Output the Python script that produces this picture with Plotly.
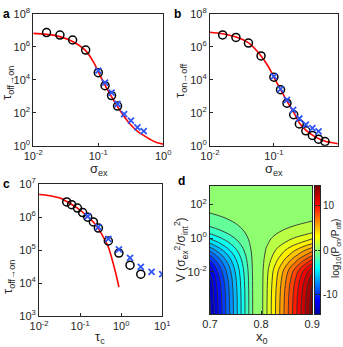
import plotly.graph_objects as go

# ---- panel a: tau off->on vs sigma_ex ----
sig_a_circ = [0.016, 0.0257, 0.0403, 0.064, 0.100, 0.127, 0.160, 0.198]
tau_a_circ = [7.3e6, 5.2e6, 2.6e6, 6.4e5, 2.7e4, 4.4e3, 1.1e3, 257]
sig_a_cross = [0.100, 0.127, 0.160, 0.198, 0.250, 0.318, 0.400, 0.500]
tau_a_cross = [3.6e4, 6.7e3, 1.66e3, 340, 84, 33, 13, 7.8]
sig_a_fit = [0.01, 0.016, 0.0257, 0.0403, 0.0638, 0.0838, 0.1, 0.127, 0.160,
             0.198, 0.251, 0.318, 0.398, 0.505, 0.631, 0.789, 1.0]
tau_a_fit = [6.6e6, 5.75e6, 4.17e6, 2.09e6, 5.9e5, 1.26e5, 3.1e4, 4.8e3, 955,
             234, 57.5, 18.2, 7.8, 4.07, 2.4, 1.58, 1.26]

# ---- panel b: tau on->off vs sigma_ex ----
sig_b_circ = [0.0158, 0.0255, 0.040, 0.063, 0.100, 0.127, 0.160, 0.204,
              0.250, 0.316, 0.400, 0.500, 0.630]
tau_b_circ = [5.3e6, 3.7e6, 1.7e6, 2.8e5, 1.45e4, 2.5e3, 385, 76,
              21, 8.1, 4.2, 2.5, 1.8]
sig_b_cross = [0.100, 0.127, 0.160, 0.200, 0.250, 0.316, 0.400, 0.500]
tau_b_cross = [1.6e4, 2.7e3, 610, 152, 45, 19, 11.8, 7.4]
sig_b_fit = [0.01, 0.0158, 0.0257, 0.0407, 0.063, 0.080, 0.1, 0.128, 0.161,
             0.204, 0.254, 0.319, 0.406, 0.510, 0.631, 0.794, 1.0]
tau_b_fit = [7.76e6, 6.17e6, 3.89e6, 1.66e6, 2.82e5, 7.4e4, 1.45e4, 2.45e3, 490,
             105, 22.4, 8.5, 4.3, 2.6, 1.9, 1.58, 1.32]

# ---- panel c: tau off->on vs tau_c ----
tc_circ = [0.047, 0.062, 0.086, 0.115, 0.153, 0.21, 0.278, 0.486, 0.88, 1.64, 3.0]
tau_c_circ = [2.9e6, 2.4e6, 1.9e6, 1.38e6, 1.0e6, 7.2e5, 4.7e5, 1.9e5, 8.2e4, 3.5e4, 1.87e4]
tc_cross = [0.153, 0.278, 0.486, 0.88, 1.64, 3.0, 5.5, 10.0]
tau_c_cross = [1.07e6, 5.0e5, 2.2e5, 1.06e5, 5.8e4, 3.1e4, 2.2e4, 1.87e4]
tc_fit = [0.01, 0.0185, 0.0324, 0.047, 0.086, 0.153, 0.21, 0.278, 0.367,
          0.486, 0.565, 0.64, 0.76, 0.88]
tau_c_fit = [4.9e6, 4.5e6, 3.8e6, 3.0e6, 1.9e6, 1.05e6, 7.2e5, 4.5e5, 2.5e5,
             1.25e5, 6.9e4, 3.9e4, 1.7e4, 7.6e3]

# tick positions / labels
sig_ticks = [0.01, 0.1, 1]
sig_ticktext = ['10<sup>-2</sup>', '10<sup>-1</sup>', '10<sup>0</sup>']
tau_ticks_ab = [1, 1e2, 1e4, 1e6, 1e8]
tau_ticktext_ab = ['10<sup>0</sup>', '10<sup>2</sup>', '10<sup>4</sup>', '10<sup>6</sup>', '10<sup>8</sup>']
tc_ticks = [0.01, 0.1, 1, 10]
tc_ticktext = ['10<sup>-2</sup>', '10<sup>-1</sup>', '10<sup>0</sup>', '10<sup>1</sup>']
tau_ticks_c = [1e3, 1e4, 1e5, 1e6, 1e7]
tau_ticktext_c = ['10<sup>3</sup>', '10<sup>4</sup>', '10<sup>5</sup>', '10<sup>6</sup>', '10<sup>7</sup>']

# ---- panel d: log10(P_on/P_off) over x0 and log10 V ----
x0_cols = [0.70, 0.7837, 0.7935, 0.8033, 0.90]
z_low_v = [-14.0, -0.6, 0.0, 0.6, 14.6]          # values at the bottom of the map
logv_rows = [-4.5, -4.0, -3.5, -3.0, -2.5, -2.0, -1.75, -1.5, -1.25, -1.0, -0.75,
             -0.5, -0.25, 0.0, 0.25, 0.5, 0.75, 1.0, 1.25, 1.5, 1.75, 2.0, 2.5, 3.1]
# fraction of the low-V value that remains, read where lines meet the side edges
keep_left = [0.997, 0.993, 0.986, 0.971, 0.942, 0.886, 0.843, 0.788, 0.720, 0.641,
             0.552, 0.460, 0.371, 0.290, 0.220, 0.163, 0.119, 0.0855, 0.0608,
             0.0428, 0.0301, 0.021, 0.0102, 0.0042]
keep_right = [0.995, 0.99, 0.98, 0.96, 0.92, 0.855, 0.79, 0.70, 0.615, 0.52,
              0.44, 0.35, 0.26, 0.195, 0.135, 0.092, 0.062, 0.042, 0.028,
              0.019, 0.013, 0.009, 0.0045, 0.0018]
v_ticks = [-2, 0, 2]
v_ticktext = ['10<sup>-2</sup>', '10<sup>0</sup>', '10<sup>2</sup>']
cbar_ends = [-14.4, 14.4]
cbar_ticks = [-10, 0, 10]

z_map = [[zv * (kl if zv < 0 else kr) for zv in z_low_v]
         for kl, kr in zip(keep_left, keep_right)]

jet = [[0.0, 'rgb(0,0,160)'], [0.11, 'rgb(0,0,255)'], [0.36, 'rgb(0,255,255)'],
       [0.61, 'rgb(255,255,0)'], [0.86, 'rgb(255,0,0)'], [1.0, 'rgb(128,0,0)']]

FONT = 'Liberation Sans, Arial, sans-serif'
INK = '#262626'
RED = '#ff0000'
BLUE = '#2f55f5'
W, H = 343, 347


def curve_traces(xs, ys, xc, yc, xf, yf, ax):
    return [
        go.Scatter(x=xf, y=yf, mode='lines', line=dict(color=RED, width=1.6, shape='spline'),
                   xaxis='x' + ax, yaxis='y' + ax, showlegend=False),
        go.Scatter(x=xs, y=ys, mode='markers', xaxis='x' + ax, yaxis='y' + ax, showlegend=False,
                   marker=dict(symbol='circle-open', size=8, color='black', line=dict(width=1.5))),
        go.Scatter(x=xc, y=yc, mode='markers', xaxis='x' + ax, yaxis='y' + ax, showlegend=False,
                   marker=dict(symbol='x-thin-open', size=6, color=BLUE, line=dict(width=1.8, color=BLUE))),
    ]


fig = go.Figure()
for t in curve_traces(sig_a_circ, tau_a_circ, sig_a_cross, tau_a_cross, sig_a_fit, tau_a_fit, ''):
    fig.add_trace(t)
for t in curve_traces(sig_b_circ, tau_b_circ, sig_b_cross, tau_b_cross, sig_b_fit, tau_b_fit, '2'):
    fig.add_trace(t)
for t in curve_traces(tc_circ, tau_c_circ, tc_cross, tau_c_cross, tc_fit, tau_c_fit, '3'):
    fig.add_trace(t)

fig.add_trace(go.Contour(
    x=x0_cols, y=logv_rows, z=z_map, xaxis='x4', yaxis='y4',
    colorscale=jet, showscale=False, autocontour=False,
    contours=dict(start=-13.8, end=13.8, size=1.2, coloring='fill'),
    line=dict(color='#333333', width=0.9), hoverinfo='skip',
))
# colour bar drawn as a thin heatmap on its own axes
fig.add_trace(go.Heatmap(
    x=[0], y=cbar_ends, z=[[cbar_ends[0]], [cbar_ends[1]]], zsmooth='best',
    colorscale=jet, zmin=cbar_ends[0], zmax=cbar_ends[1], showscale=False,
    xaxis='x5', yaxis='y5', hoverinfo='skip',
))

axis_style = dict(showline=True, mirror=True, linecolor=INK, linewidth=1, ticks='inside',
                  ticklen=3, tickcolor=INK, showgrid=False, zeroline=False, automargin=False,
                  tickfont=dict(size=11, color=INK, family=FONT))
log_style = dict(axis_style, type='log')

fig.update_layout(
    width=W, height=H, margin=dict(l=0, r=0, t=0, b=0, autoexpand=False),
    paper_bgcolor='white', plot_bgcolor='white', font=dict(family=FONT, color=INK),
    xaxis=dict(log_style, domain=[0.097, 0.476], range=[-2, 0], anchor='y',
               tickvals=sig_ticks, ticktext=sig_ticktext),
    yaxis=dict(log_style, domain=[0.580, 0.960], range=[0, 8], anchor='x',
               tickvals=tau_ticks_ab, ticktext=tau_ticktext_ab),
    xaxis2=dict(log_style, domain=[0.612, 0.985], range=[-2, 0], anchor='y2',
                tickvals=sig_ticks, ticktext=sig_ticktext),
    yaxis2=dict(log_style, domain=[0.580, 0.960], range=[0, 8], anchor='x2',
                tickvals=tau_ticks_ab, ticktext=tau_ticktext_ab),
    xaxis3=dict(log_style, domain=[0.114, 0.473], range=[-2, 1], anchor='y3',
                tickvals=tc_ticks, ticktext=tc_ticktext),
    yaxis3=dict(log_style, domain=[0.089, 0.469], range=[3, 7], anchor='x3',
                tickvals=tau_ticks_c, ticktext=tau_ticktext_c),
    xaxis4=dict(axis_style, domain=[0.612, 0.910], range=[0.7, 0.9], anchor='y4',
                tickvals=[0.7, 0.8, 0.9], ticktext=['0.7', '0.8', '0.9']),
    yaxis4=dict(axis_style, domain=[0.095, 0.464], range=[-4.5, 3.1], anchor='x4',
                tickvals=v_ticks, ticktext=v_ticktext),
    xaxis5=dict(axis_style, domain=[315 / W, 320 / W], range=[-0.5, 0.5], anchor='y5',
                ticks='', showticklabels=False),
    yaxis5=dict(axis_style, domain=[0.095, 0.464], range=cbar_ends, anchor='x5',
                side='right', mirror='allticks', ticklen=2,
                tickfont=dict(size=10, color=INK, family=FONT),
                tickvals=cbar_ticks, ticktext=[str(v) for v in cbar_ticks]),
)

# panel letters
for label, px, py in [('a', 6, 14), ('b', 177, 14), ('c', 6, 184), ('d', 181, 181)]:
    fig.add_annotation(text='<b>%s</b>' % label, x=px / W, y=1 - py / H, xref='paper',
                       yref='paper', xanchor='center', yanchor='middle', showarrow=False,
                       font=dict(size=12, color='black', family=FONT))

# axis titles placed where the reference has them
titles = [
    ('τ<sub>off→on</sub>', 8, 83, -90, 13),
    ('σ<sub>ex</sub>', 99, 169, 0, 13),
    ('τ<sub>on→off</sub>', 180, 80, -90, 13),
    ('σ<sub>ex</sub>', 274, 169, 0, 13),
    ('τ<sub>off→on</sub>', 8, 277, -90, 13),
    ('τ<sub>c</sub>', 100, 337, 0, 13),
    ('V (σ<sub>ex</sub><sup>2</sup>/σ<sub>int</sub><sup>2</sup>)', 181, 250, -90, 12),
    ('x<sub>0</sub>', 262, 337, 0, 13),
    ('log<sub>10</sub>(P<sub>on</sub>/P<sub>off</sub>)', 336, 249, -90, 10),
]
for text, px, py, ang, size in titles:
    fig.add_annotation(text=text, x=px / W, y=1 - py / H, xref='paper', yref='paper',
                       xanchor='center', yanchor='middle', showarrow=False, textangle=ang,
                       font=dict(size=size, color=INK, family=FONT))

# the page body has a default margin; drop it so the figure sits at the window corner
fig.write_html('out.html', config={'displayModeBar': False},
               post_script="document.body.style.margin='0';")
